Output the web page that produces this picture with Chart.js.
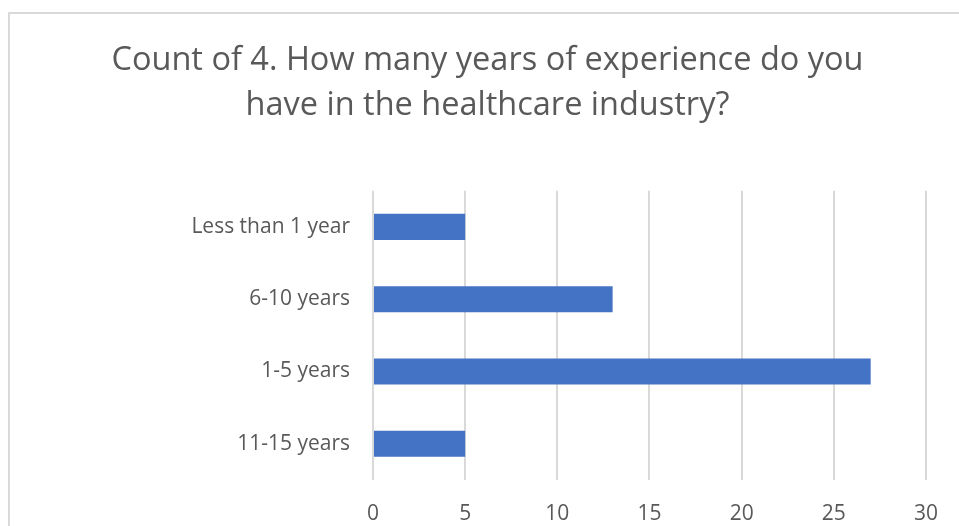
<!DOCTYPE html>
<html>
<head>
<meta charset="utf-8">
<script src="https://cdn.jsdelivr.net/npm/chart.js@4"></script>
<style>
    html, body { margin: 0; padding: 0; background: #fff; }
    #wrap { position: relative; width: 959px; height: 526px; overflow: hidden; }
    #frame { position: absolute; left: 8px; top: 12px; width: 980px; height: 540px; border-left: 2px solid #d9d9d9; border-top: 2px solid #d9d9d9; }
    canvas { position: absolute; left: 0; top: 0; }
</style>
</head>
<body>
<div id="wrap">
    <div id="frame"></div>
    <canvas id="expChart" width="959" height="526"></canvas>
</div>
<script>
// Survey answers, top to bottom
const categories = ['Less than 1 year', '6-10 years', '1-5 years', '11-15 years'];
const counts = [5, 13, 27, 5];
const xTicks = [0, 5, 10, 15, 20, 25, 30];
const titleLines = ['Count of 4. How many years of experience do you', 'have in the healthcare industry?'];

const textColor = '#595959';
const fontFamily = "'Open Sans', sans-serif";

const ctx = document.getElementById('expChart').getContext('2d');
new Chart(ctx, {
    type: 'bar',
    data: {
        labels: categories,
        datasets: [{
            data: counts,
            backgroundColor: '#4472C4',
            borderWidth: 0,
            categoryPercentage: 1,
            barPercentage: 0.36
        }]
    },
    options: {
        indexAxis: 'y',
        responsive: false,
        animation: false,
        // left/right padding keeps the title centred on the frame
        layout: { padding: { left: 48, right: 32, top: 0, bottom: 0 } },
        plugins: {
            legend: { display: false },
            tooltip: { enabled: false },
            title: {
                display: true,
                text: titleLines,
                color: textColor,
                font: { family: fontFamily, size: 32.5, weight: 'normal', lineHeight: 1.38 },
                padding: { top: 38, bottom: 63 }
            }
        },
        scales: {
            x: {
                min: 0, max: 30,
                afterBuildTicks: scale => { scale.ticks = xTicks.map(v => ({ value: v })); },
                afterFit: scale => { scale.height = 46; },
                border: { display: false },
                grid: { color: '#d9d9d9', lineWidth: 2, drawTicks: false },
                ticks: { color: textColor, padding: 21, font: { family: fontFamily, size: 21 } }
            },
            y: {
                afterFit: scale => { scale.width = 325; },
                border: { display: false },
                grid: { display: false, drawTicks: false },
                ticks: { color: textColor, padding: 23, font: { family: fontFamily, size: 21 } }
            }
        }
    }
});
</script>
</body>
</html>
